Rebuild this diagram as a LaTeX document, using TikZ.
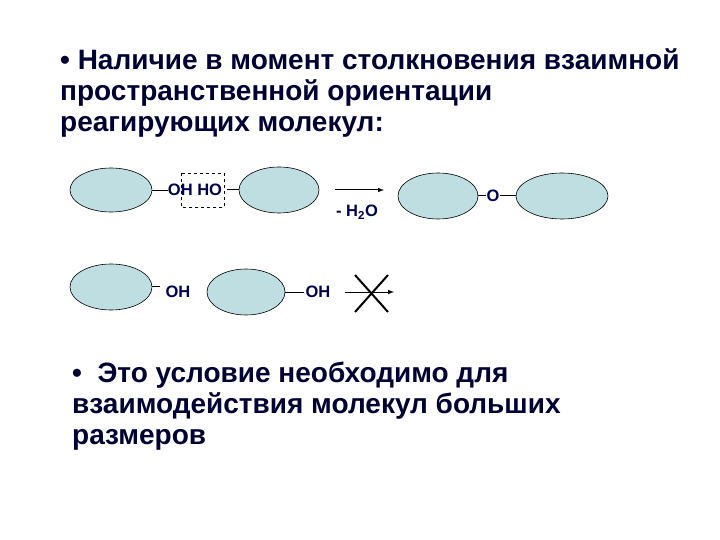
\documentclass[tikz,border=0pt]{standalone}
\usepackage{fontspec}
\setmainfont{Liberation Sans}
\begin{document}
\begin{tikzpicture}[x=1pt,y=-1pt,
  lbl/.style={font=\bfseries\fontsize{16.5}{18}\selectfont,text=blue!30!black,inner sep=0pt},
  big/.style={font=\bfseries\fontsize{28}{31}\selectfont,text=blue!20!black,align=left,inner sep=0pt,anchor=north west}]
\useasboundingbox[fill=white] (0,0) rectangle (720,540);
\tikzset{molfill/.style={fill={rgb,255:red,190;green,222;blue,226}}}
\node[big] (t1) at (60,48) {• Наличие в момент столкновения взаимной\\пространственной ориентации\\реагирующих молекул:};
\node[big] (t2) at (72,362) {• \ Это условие необходимо для\\взаимодействия молекул больших\\размеров};
% row 1
\draw[molfill,line width=0.6pt] (111,190) ellipse [x radius=41,y radius=22];
\draw[molfill,line width=0.6pt] (279,190) ellipse [x radius=40,y radius=23];
\draw[molfill,line width=0.6pt] (438,196) ellipse [x radius=40,y radius=23];
\draw[molfill,line width=0.6pt] (562,196) ellipse [x radius=46,y radius=23];
\coordinate (e1r) at (152,190);
\coordinate (e2l) at (239,190);
\node[lbl] (oh1) at (195,190) {OH HO};
\draw[dashed,line width=0.5pt] (181,173) rectangle (224,207);
\draw[line width=0.8pt] (e1r) -- (oh1.west);
\draw[line width=1pt] (oh1.east)++(5,0) -- (e2l);
\coordinate (a1) at (335,190); \coordinate (a2) at (384,190);
\draw[-latex,line width=1pt] (a1) -- (a2);
\node[lbl] (h2o) at (357,212) {- H\textsubscript{2}O};
\node[lbl] (o) at (493,196) {O};
\draw[line width=1pt] (478,196) -- (o.west);
\draw[line width=1pt] (o.east) -- (516,196);
% row 2
\draw[molfill,line width=0.6pt] (111,287) ellipse [x radius=41,y radius=23];
\draw[molfill,line width=0.6pt] (246,292) ellipse [x radius=39,y radius=23];
\draw[line width=1pt] (152,286) -- (160,286);
\node[lbl] (oh2) at (178,292) {OH};
\draw[line width=0.8pt] (285,292) -- (304,292);
\node[lbl] (oh3) at (318,292) {OH};
\coordinate (b1) at (345,292); \coordinate (b2) at (394,292);
\draw[-latex,line width=1pt] (b1) -- (b2);
\draw[line width=2pt] (355,275) -- (388,312);
\draw[line width=2pt] (388,275) -- (355,312);
\end{tikzpicture}
\end{document}
